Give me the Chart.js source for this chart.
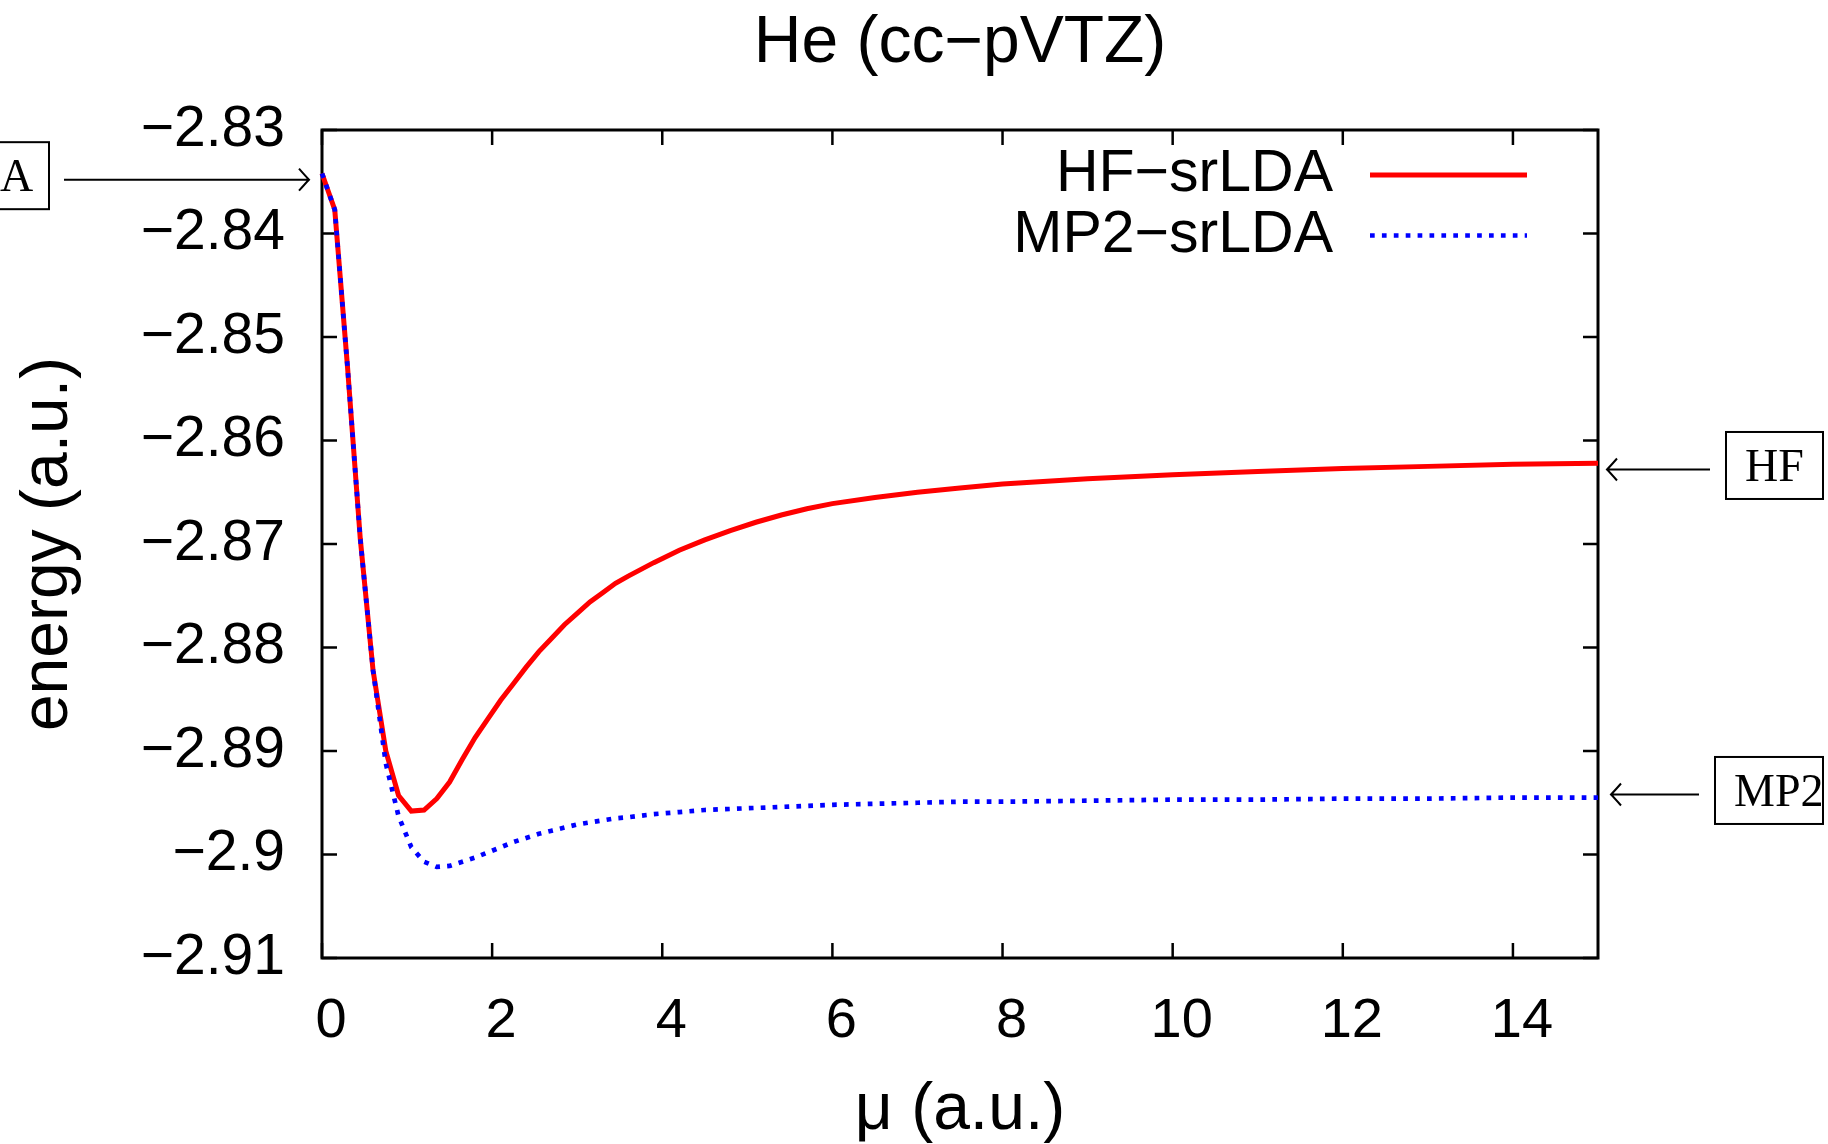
<!DOCTYPE html>
<html>
<head>
<meta charset="utf-8">
<title>He (cc-pVTZ)</title>
<script src="https://cdn.jsdelivr.net/npm/chart.js@4.4.0/dist/chart.umd.min.js"></script>
<style>
  html, body { margin: 0; padding: 0; background: #fff; }
  #wrap { width: 1828px; height: 1144px; }
</style>
</head>
<body>
<div id="wrap"><canvas id="chart" width="1828" height="1144"></canvas></div>
<script>
// He (cc-pVTZ): srLDA energies against the range-separation parameter mu

const muValues = [0, 0.15, 0.3, 0.45, 0.6, 0.75, 0.9, 1.05, 1.2, 1.35, 1.5, 1.65, 1.8, 1.95,
  2.1, 2.25, 2.4, 2.55, 2.7, 2.85, 3.0, 3.15, 3.3, 3.45, 3.6, 3.9, 4.2, 4.5, 4.8, 5.1, 5.4,
  5.7, 6.0, 6.5, 7.0, 7.5, 8.0, 9.0, 10.0, 11.0, 12.0, 13.0, 14.0, 15.0];

const hfSrLDA = [-2.8342, -2.8377, -2.8529, -2.8695, -2.8822, -2.8900, -2.8943, -2.8958, -2.8957,
  -2.8946, -2.8930, -2.8908, -2.8887, -2.8869, -2.8851, -2.8835, -2.8819, -2.8804, -2.8791,
  -2.8778, -2.8767, -2.8756, -2.8747, -2.8738, -2.8731, -2.8718, -2.8706, -2.8696, -2.8687,
  -2.8679, -2.8672, -2.8666, -2.8661, -2.8655, -2.8650, -2.8646, -2.8642, -2.8637, -2.8633,
  -2.8630, -2.8627, -2.8625, -2.8623, -2.8622];

const mp2SrLDA = [-2.8342, -2.8377, -2.8529, -2.8695, -2.8822, -2.8912, -2.8963, -2.8993, -2.9007,
  -2.9012, -2.9011, -2.9007, -2.9003, -2.8998, -2.8993, -2.8988, -2.8984, -2.8980, -2.8977,
  -2.8974, -2.8971, -2.8969, -2.8967, -2.8965, -2.8964, -2.8961, -2.8959, -2.8957, -2.8956,
  -2.8955, -2.8954, -2.8953, -2.8952, -2.8951, -2.8950, -2.8949, -2.8949, -2.8948, -2.8947,
  -2.8947, -2.8946, -2.8946, -2.8945, -2.8945];

const seriesLabels = ['HF\u2212srLDA', 'MP2\u2212srLDA'];
const xTicks = [0, 2, 4, 6, 8, 10, 12, 14];
const yTicks = [-2.83, -2.84, -2.85, -2.86, -2.87, -2.88, -2.89, -2.9, -2.91];

// reference energies pointed at by the boxed arrows
const markerLabels = ['A', 'HF', 'MP2'];
const markerValues = [-2.8348, -2.8628, -2.8942];

const SANS = '"Liberation Sans", Arial, Helvetica, sans-serif';
const SERIF = '"Liberation Serif", "Times New Roman", serif';

function fmtTick(v) {
    return String(Math.round(v * 100) / 100).replace('-', '\u2212');
}

// gnuplot style frame with inward ticks on all four sides
const framePlugin = {
    id: 'frame',
    beforeDatasetsDraw(chart) {
        const { ctx, chartArea: a, scales: { x, y } } = chart;
        const tl = 15;
        ctx.save();
        ctx.strokeStyle = '#000';
        ctx.lineWidth = 2.5;
        ctx.beginPath();
        xTicks.forEach(v => {
            const px = x.getPixelForValue(v);
            ctx.moveTo(px, a.bottom); ctx.lineTo(px, a.bottom - tl);
            ctx.moveTo(px, a.top); ctx.lineTo(px, a.top + tl);
        });
        yTicks.forEach(v => {
            const py = y.getPixelForValue(v);
            ctx.moveTo(a.left, py); ctx.lineTo(a.left + tl, py);
            ctx.moveTo(a.right, py); ctx.lineTo(a.right - tl, py);
        });
        ctx.stroke();
        ctx.lineWidth = 3;
        ctx.strokeRect(a.left, a.top, a.right - a.left, a.bottom - a.top);
        ctx.restore();
    },
    afterDraw(chart) {
        const { ctx, chartArea: a, scales: { y } } = chart;
        ctx.save();

        // key: text right aligned, then line sample
        chart.data.datasets.forEach((ds, i) => {
            const ly = a.top + 45 + i * 60.5;
            ctx.font = '59px ' + SANS;
            ctx.fillStyle = '#000';
            ctx.textAlign = 'right';
            ctx.textBaseline = 'middle';
            ctx.fillText(ds.label, a.right - 265, ly);
            ctx.strokeStyle = ds.borderColor;
            ctx.lineWidth = ds.borderWidth;
            ctx.setLineDash(ds.borderDash || []);
            ctx.beginPath();
            ctx.moveTo(a.right - 228, ly);
            ctx.lineTo(a.right - 71, ly);
            ctx.stroke();
        });
        ctx.setLineDash([]);

        // boxed labels with arrows
        const boxes = [
            { left: -40, right: 49, tail: 64, tip: a.left - 13 },
            { left: 1726, right: 1823, tail: 1710, tip: a.right + 9 },
            { left: 1715, right: 1823, tail: 1699, tip: a.right + 13 }
        ];
        ctx.strokeStyle = '#000';
        ctx.fillStyle = '#000';
        ctx.font = '46px ' + SERIF;
        ctx.textAlign = 'left';
        ctx.textBaseline = 'alphabetic';
        markerLabels.forEach((lab, i) => {
            const b = boxes[i];
            const py = y.getPixelForValue(markerValues[i]);
            const cy = py - 4;
            ctx.lineWidth = 2;
            ctx.strokeRect(b.left, cy - 33.5, b.right - b.left, 67);
            ctx.fillText(lab, i === 0 ? 0 : b.left + 19, cy + 15.5);
            ctx.beginPath();
            ctx.moveTo(b.tail, py);
            ctx.lineTo(b.tip, py);
            const dir = b.tip > b.tail ? -1 : 1;
            ctx.moveTo(b.tip + dir * 10, py - 11);
            ctx.quadraticCurveTo(b.tip + dir * 3, py - 3, b.tip, py);
            ctx.quadraticCurveTo(b.tip + dir * 3, py + 3, b.tip + dir * 10, py + 11);
            ctx.stroke();
        });
        ctx.restore();
    }
};

const ctx = document.getElementById('chart');

new Chart(ctx.getContext('2d'), {
    type: 'line',
    data: {
        datasets: [{
            label: seriesLabels[0],
            data: muValues.map((m, i) => ({ x: m, y: hfSrLDA[i] })),
            borderColor: '#ff0000',
            borderWidth: 5,
            pointRadius: 0,
            tension: 0,
            clip: 8,
            order: 1
        }, {
            label: seriesLabels[1],
            data: muValues.map((m, i) => ({ x: m, y: mp2SrLDA[i] })),
            borderColor: '#0000ff',
            borderWidth: 4.7,
            borderDash: [4.7, 7.2],
            borderCapStyle: 'butt',
            pointRadius: 0,
            tension: 0,
            clip: 8,
            order: 0
        }]
    },
    options: {
        responsive: false,
        animation: false,
        layout: { padding: { top: 0, left: 0, right: 230, bottom: 0 } },
        plugins: {
            legend: { display: false },
            tooltip: { enabled: false },
            title: {
                display: true,
                text: 'He (cc\u2212pVTZ)',
                fullSize: false,
                color: '#000',
                font: { family: SANS, size: 66, weight: 'normal', lineHeight: 1 },
                padding: { top: 11, bottom: 53 }
            }
        },
        scales: {
            x: {
                type: 'linear',
                min: 0,
                max: 15,
                afterBuildTicks: s => { s.ticks = xTicks.map(v => ({ value: v })); },
                afterFit: s => { s.height = 186; },
                grid: { display: false, drawTicks: false },
                border: { display: false },
                ticks: {
                    color: '#000',
                    padding: 30,
                    labelOffset: 9,
                    maxRotation: 0,
                    font: { family: SANS, size: 56, lineHeight: 1.2 },
                    callback: v => fmtTick(v)
                },
                title: {
                    display: true,
                    text: '\u03bc (a.u.)',
                    color: '#000',
                    font: { family: SANS, size: 66, lineHeight: 1 },
                    padding: { top: 0, bottom: 0 }
                }
            },
            y: {
                type: 'linear',
                min: -2.91,
                max: -2.83,
                afterBuildTicks: s => { s.ticks = yTicks.map(v => ({ value: v })); },
                afterFit: s => { s.width = 322; },
                grid: { display: false, drawTicks: false },
                border: { display: false },
                ticks: {
                    color: '#000',
                    padding: 37,
                    font: { family: SANS, size: 57, lineHeight: 1.2 },
                    callback: v => fmtTick(v)
                },
                title: {
                    display: true,
                    text: 'energy (a.u.)',
                    color: '#000',
                    font: { family: SANS, size: 66, lineHeight: 1 },
                    padding: { top: 16, bottom: 0 }
                }
            }
        }
    },
    plugins: [framePlugin]
});
</script>
</body>
</html>
